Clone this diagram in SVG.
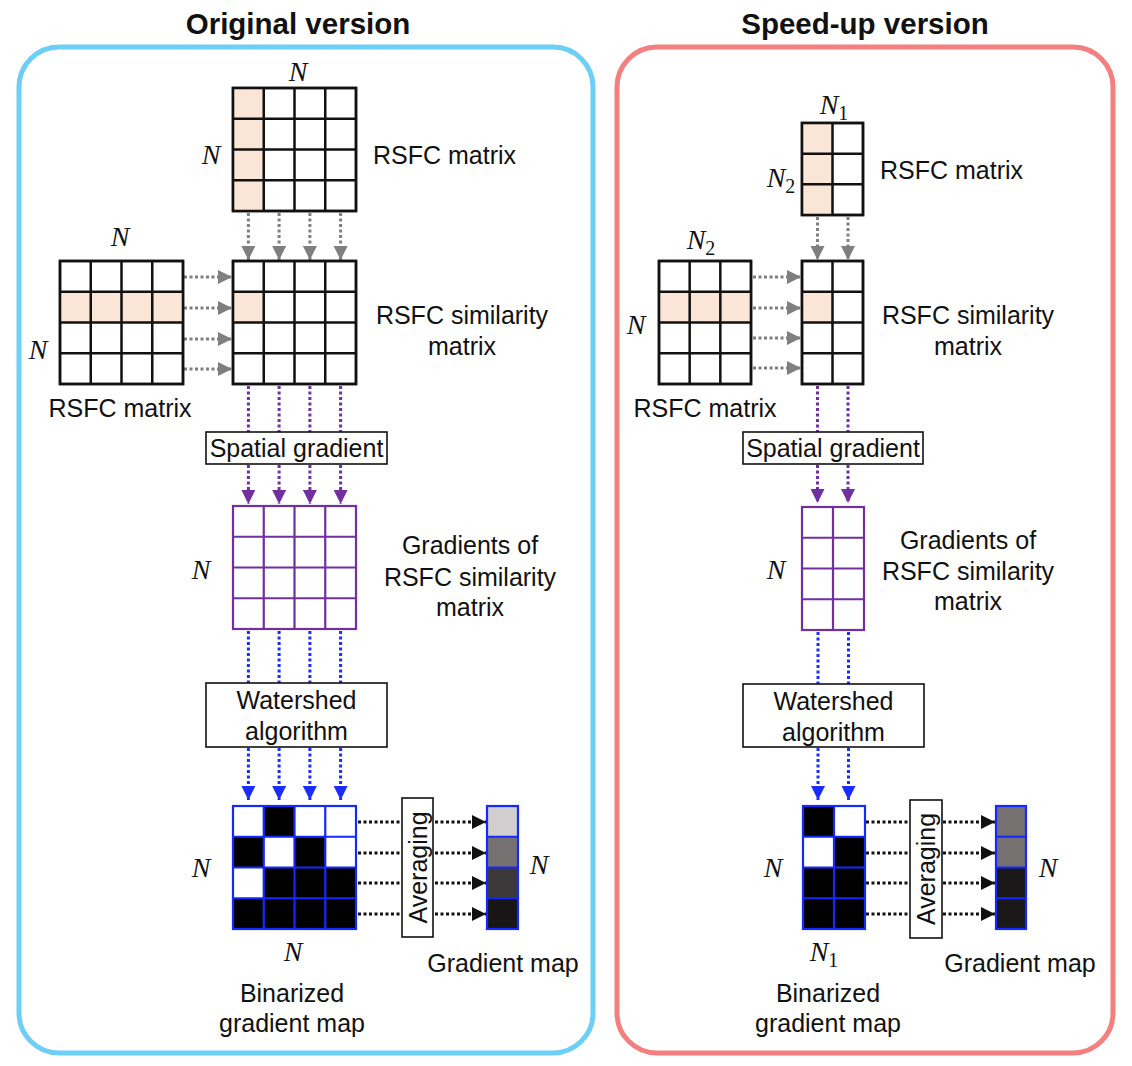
<svg xmlns="http://www.w3.org/2000/svg" width="1132" height="1066" viewBox="0 0 1132 1066">
<style>
.t{font-family:"Liberation Sans",Arial,sans-serif;font-size:25px;fill:#111}
.ttl{font-family:"Liberation Sans",Arial,sans-serif;font-size:29.5px;font-weight:bold;fill:#111}
.m{font-family:"Liberation Serif","DejaVu Serif",serif;font-style:italic;font-size:28px;fill:#111}
.sub{font-style:normal;font-size:20px}
.gk{fill:#fff;stroke:#111;stroke-width:2.5}
.gp{fill:#fff;stroke:#7030a0;stroke-width:2.2}
.gb{stroke:#1428ff;stroke-width:2.2}
.pk{fill:#fbe5d6}
.box{fill:#fff;stroke:#111;stroke-width:1.6}
.dg{stroke:#7f7f7f;stroke-width:3;stroke-dasharray:3 2.5;fill:none}
.dp{stroke:#7030a0;stroke-width:3;stroke-dasharray:3 2.5;fill:none}
.db{stroke:#1a2cff;stroke-width:3;stroke-dasharray:3 2.5;fill:none}
.dk{stroke:#111;stroke-width:3;stroke-dasharray:3 2.5;fill:none}
</style>
<defs>
<marker id="ag" markerUnits="userSpaceOnUse" markerWidth="14" markerHeight="14" refX="14" refY="7" orient="auto"><path d="M0,0 L14,7 L0,14 z" fill="#7f7f7f"/></marker>
<marker id="ap" markerUnits="userSpaceOnUse" markerWidth="14" markerHeight="14" refX="14" refY="7" orient="auto"><path d="M0,0 L14,7 L0,14 z" fill="#7030a0"/></marker>
<marker id="ab" markerUnits="userSpaceOnUse" markerWidth="14" markerHeight="14" refX="14" refY="7" orient="auto"><path d="M0,0 L14,7 L0,14 z" fill="#1a2cff"/></marker>
<marker id="ak" markerUnits="userSpaceOnUse" markerWidth="14" markerHeight="14" refX="14" refY="7" orient="auto"><path d="M0,0 L14,7 L0,14 z" fill="#111"/></marker>
</defs>
<rect width="1132" height="1066" fill="#fff"/>

<g id="panel-original">
<rect x="19" y="47" width="574" height="1006" rx="40" fill="none" stroke="#6dcff6" stroke-width="5"/>
<text class="ttl" x="298" y="34" text-anchor="middle">Original version</text>
</g>
<g id="panel-speedup">
<rect x="617" y="47" width="496" height="1006" rx="40" fill="none" stroke="#f47f7f" stroke-width="5"/>
<text class="ttl" x="865" y="34" text-anchor="middle">Speed-up version</text>
</g>

<g id="connectors">
<line class="dg" x1="248.4" y1="213" x2="248.4" y2="260" marker-end="url(#ag)"/>
<line class="dg" x1="279.1" y1="213" x2="279.1" y2="260" marker-end="url(#ag)"/>
<line class="dg" x1="309.9" y1="213" x2="309.9" y2="260" marker-end="url(#ag)"/>
<line class="dg" x1="340.6" y1="213" x2="340.6" y2="260" marker-end="url(#ag)"/>
<line class="dg" x1="184" y1="277" x2="232" y2="277" marker-end="url(#ag)"/>
<line class="dg" x1="184" y1="308" x2="232" y2="308" marker-end="url(#ag)"/>
<line class="dg" x1="184" y1="339" x2="232" y2="339" marker-end="url(#ag)"/>
<line class="dg" x1="184" y1="369" x2="232" y2="369" marker-end="url(#ag)"/>
<line class="dp" x1="248.4" y1="386" x2="248.4" y2="432"/>
<line class="dp" x1="279.1" y1="386" x2="279.1" y2="432"/>
<line class="dp" x1="309.9" y1="386" x2="309.9" y2="432"/>
<line class="dp" x1="340.6" y1="386" x2="340.6" y2="432"/>
<line class="dp" x1="248.4" y1="465" x2="248.4" y2="504" marker-end="url(#ap)"/>
<line class="dp" x1="279.1" y1="465" x2="279.1" y2="504" marker-end="url(#ap)"/>
<line class="dp" x1="309.9" y1="465" x2="309.9" y2="504" marker-end="url(#ap)"/>
<line class="dp" x1="340.6" y1="465" x2="340.6" y2="504" marker-end="url(#ap)"/>
<line class="db" x1="248.4" y1="631" x2="248.4" y2="683"/>
<line class="db" x1="279.1" y1="631" x2="279.1" y2="683"/>
<line class="db" x1="309.9" y1="631" x2="309.9" y2="683"/>
<line class="db" x1="340.6" y1="631" x2="340.6" y2="683"/>
<line class="db" x1="248.4" y1="748" x2="248.4" y2="800" marker-end="url(#ab)"/>
<line class="db" x1="279.1" y1="748" x2="279.1" y2="800" marker-end="url(#ab)"/>
<line class="db" x1="309.9" y1="748" x2="309.9" y2="800" marker-end="url(#ab)"/>
<line class="db" x1="340.6" y1="748" x2="340.6" y2="800" marker-end="url(#ab)"/>
<line class="dk" x1="358" y1="822" x2="486" y2="822" marker-end="url(#ak)"/>
<line class="dk" x1="358" y1="853" x2="486" y2="853" marker-end="url(#ak)"/>
<line class="dk" x1="358" y1="883" x2="486" y2="883" marker-end="url(#ak)"/>
<line class="dk" x1="358" y1="914" x2="486" y2="914" marker-end="url(#ak)"/>
<line class="dg" x1="817.5" y1="217" x2="817.5" y2="260" marker-end="url(#ag)"/>
<line class="dg" x1="848" y1="217" x2="848" y2="260" marker-end="url(#ag)"/>
<line class="dg" x1="753" y1="277" x2="801" y2="277" marker-end="url(#ag)"/>
<line class="dg" x1="753" y1="308" x2="801" y2="308" marker-end="url(#ag)"/>
<line class="dg" x1="753" y1="338" x2="801" y2="338" marker-end="url(#ag)"/>
<line class="dg" x1="753" y1="368" x2="801" y2="368" marker-end="url(#ag)"/>
<line class="dp" x1="817.5" y1="386" x2="817.5" y2="432"/>
<line class="dp" x1="848" y1="386" x2="848" y2="432"/>
<line class="dp" x1="817.5" y1="465" x2="817.5" y2="503" marker-end="url(#ap)"/>
<line class="dp" x1="848" y1="465" x2="848" y2="503" marker-end="url(#ap)"/>
<line class="db" x1="818" y1="632" x2="818" y2="684"/>
<line class="db" x1="848.5" y1="632" x2="848.5" y2="684"/>
<line class="db" x1="818" y1="748" x2="818" y2="800" marker-end="url(#ab)"/>
<line class="db" x1="848.5" y1="748" x2="848.5" y2="800" marker-end="url(#ab)"/>
<line class="dk" x1="866" y1="822" x2="995" y2="822" marker-end="url(#ak)"/>
<line class="dk" x1="866" y1="853" x2="995" y2="853" marker-end="url(#ak)"/>
<line class="dk" x1="866" y1="883" x2="995" y2="883" marker-end="url(#ak)"/>
<line class="dk" x1="866" y1="914" x2="995" y2="914" marker-end="url(#ak)"/>
</g>

<g id="o-rsfc-top">
<rect class="gk" x="233" y="88" width="123" height="123"/>
<rect class="pk" x="234.2" y="89.2" width="29.5" height="120.6"/>
<path d="M263.75,88V211M294.5,88V211M325.25,88V211M233,118.75H356M233,149.5H356M233,180.25H356" stroke="#111" stroke-width="2.5" fill="none"/>
<rect x="233" y="88" width="123" height="123" fill="none" stroke="#111" stroke-width="2.5"/>
<text class="m" x="298" y="81" text-anchor="middle">N</text>
<text class="m" x="211" y="164" text-anchor="middle">N</text>
<text class="t" x="373" y="164">RSFC matrix</text>
</g>
<g id="o-rsfc-left">
<rect class="gk" x="60" y="261" width="123" height="123"/>
<rect class="pk" x="61.2" y="291.75" width="120.6" height="30.75"/>
<path d="M90.75,261V384M121.5,261V384M152.25,261V384M60,291.75H183M60,322.5H183M60,353.25H183" stroke="#111" stroke-width="2.5" fill="none"/>
<rect x="60" y="261" width="123" height="123" fill="none" stroke="#111" stroke-width="2.5"/>
<text class="m" x="120" y="246" text-anchor="middle">N</text>
<text class="m" x="38" y="359" text-anchor="middle">N</text>
<text class="t" x="120" y="417" text-anchor="middle">RSFC matrix</text>
</g>
<g id="o-similarity">
<rect class="gk" x="233" y="261" width="123" height="123"/>
<rect class="pk" x="234.2" y="291.75" width="29.5" height="30.75"/>
<path d="M263.75,261V384M294.5,261V384M325.25,261V384M233,291.75H356M233,322.5H356M233,353.25H356" stroke="#111" stroke-width="2.5" fill="none"/>
<rect x="233" y="261" width="123" height="123" fill="none" stroke="#111" stroke-width="2.5"/>
<text class="t" x="462" y="324" text-anchor="middle">RSFC similarity</text>
<text class="t" x="462" y="355" text-anchor="middle">matrix</text>
</g>
<g id="o-spatial">
<rect class="box" x="206" y="432" width="181" height="32"/>
<text class="t" x="296.5" y="457" text-anchor="middle">Spatial gradient</text>
</g>
<g id="o-gradients">
<rect class="gp" x="233" y="506" width="123" height="123"/>
<path d="M263.75,506V629M294.5,506V629M325.25,506V629M233,536.75H356M233,567.5H356M233,598.25H356" stroke="#7030a0" stroke-width="2.2" fill="none"/>
<text class="m" x="201" y="579" text-anchor="middle">N</text>
<text class="t" x="470" y="554" text-anchor="middle">Gradients of</text>
<text class="t" x="470" y="586" text-anchor="middle">RSFC similarity</text>
<text class="t" x="470" y="616" text-anchor="middle">matrix</text>
</g>
<g id="o-watershed">
<rect class="box" x="206" y="683" width="181" height="64"/>
<text class="t" x="296.5" y="709" text-anchor="middle">Watershed</text>
<text class="t" x="296.5" y="740" text-anchor="middle">algorithm</text>
</g>
<g id="o-binarized">
<rect x="233" y="806" width="123" height="123" fill="#fff"/>
<rect x="263.75" y="806" width="30.75" height="30.75" fill="#000"/>
<rect x="233" y="836.75" width="30.75" height="30.75" fill="#000"/>
<rect x="294.5" y="836.75" width="30.75" height="30.75" fill="#000"/>
<rect x="263.75" y="867.5" width="92.25" height="30.75" fill="#000"/>
<rect x="233" y="898.25" width="123" height="30.75" fill="#000"/>
<path d="M263.75,806V929M294.5,806V929M325.25,806V929M233,836.75H356M233,867.5H356M233,898.25H356" class="gb" fill="none"/>
<rect x="233" y="806" width="123" height="123" fill="none" class="gb"/>
<text class="m" x="201" y="877" text-anchor="middle">N</text>
<text class="m" x="293" y="961" text-anchor="middle">N</text>
<text class="t" x="292" y="1002" text-anchor="middle">Binarized</text>
<text class="t" x="292" y="1032" text-anchor="middle">gradient map</text>
</g>
<g id="o-averaging">
<rect class="box" x="402" y="798" width="31" height="139"/>
<text class="t" transform="translate(426.5,867.5) rotate(-90)" text-anchor="middle">Averaging</text>
</g>
<g id="o-gradient-map">
<rect x="487" y="806" width="31" height="30.75" fill="#d0cece"/>
<rect x="487" y="836.75" width="31" height="30.75" fill="#767171"/>
<rect x="487" y="867.5" width="31" height="30.75" fill="#3b3838"/>
<rect x="487" y="898.25" width="31" height="30.75" fill="#171515"/>
<path d="M487,836.75H518M487,867.5H518M487,898.25H518" class="gb" fill="none"/>
<rect x="487" y="806" width="31" height="123" fill="none" class="gb"/>
<text class="m" x="539" y="874" text-anchor="middle">N</text>
<text class="t" x="503" y="972" text-anchor="middle">Gradient map</text>
</g>

<g id="s-rsfc-top">
<rect class="gk" x="802" y="123" width="61" height="92"/>
<rect class="pk" x="803.2" y="124.2" width="29.3" height="89.6"/>
<path d="M832.5,123V215M802,153.67H863M802,184.33H863" stroke="#111" stroke-width="2.5" fill="none"/>
<rect x="802" y="123" width="61" height="92" fill="none" stroke="#111" stroke-width="2.5"/>
<text class="m" x="834" y="114" text-anchor="middle">N<tspan class="sub" dy="6">1</tspan></text>
<text class="m" x="781" y="187" text-anchor="middle">N<tspan class="sub" dy="6">2</tspan></text>
<text class="t" x="880" y="179">RSFC matrix</text>
</g>
<g id="s-rsfc-left">
<rect class="gk" x="659" y="261" width="92" height="123"/>
<rect class="pk" x="660.2" y="291.75" width="89.6" height="30.75"/>
<path d="M689.67,261V384M720.33,261V384M659,291.75H751M659,322.5H751M659,353.25H751" stroke="#111" stroke-width="2.5" fill="none"/>
<rect x="659" y="261" width="92" height="123" fill="none" stroke="#111" stroke-width="2.5"/>
<text class="m" x="701" y="249" text-anchor="middle">N<tspan class="sub" dy="6">2</tspan></text>
<text class="m" x="636" y="334" text-anchor="middle">N</text>
<text class="t" x="705" y="417" text-anchor="middle">RSFC matrix</text>
</g>
<g id="s-similarity">
<rect class="gk" x="802" y="261" width="61" height="123"/>
<rect class="pk" x="803.2" y="291.75" width="29.3" height="30.75"/>
<path d="M832.5,261V384M802,291.75H863M802,322.5H863M802,353.25H863" stroke="#111" stroke-width="2.5" fill="none"/>
<rect x="802" y="261" width="61" height="123" fill="none" stroke="#111" stroke-width="2.5"/>
<text class="t" x="968" y="324" text-anchor="middle">RSFC similarity</text>
<text class="t" x="968" y="355" text-anchor="middle">matrix</text>
</g>
<g id="s-spatial">
<rect class="box" x="743" y="432" width="180" height="32"/>
<text class="t" x="833" y="457" text-anchor="middle">Spatial gradient</text>
</g>
<g id="s-gradients">
<rect class="gp" x="802" y="507" width="62" height="123"/>
<path d="M833,507V630M802,537.75H864M802,568.5H864M802,599.25H864" stroke="#7030a0" stroke-width="2.2" fill="none"/>
<text class="m" x="776" y="579" text-anchor="middle">N</text>
<text class="t" x="968" y="549" text-anchor="middle">Gradients of</text>
<text class="t" x="968" y="580" text-anchor="middle">RSFC similarity</text>
<text class="t" x="968" y="610" text-anchor="middle">matrix</text>
</g>
<g id="s-watershed">
<rect class="box" x="743" y="684" width="181" height="63"/>
<text class="t" x="833.5" y="710" text-anchor="middle">Watershed</text>
<text class="t" x="833.5" y="741" text-anchor="middle">algorithm</text>
</g>
<g id="s-binarized">
<rect x="803" y="806" width="62" height="123" fill="#000"/>
<rect x="834" y="806" width="31" height="30.75" fill="#fff"/>
<rect x="803" y="836.75" width="31" height="30.75" fill="#fff"/>
<path d="M834,806V929M803,836.75H865M803,867.5H865M803,898.25H865" class="gb" fill="none"/>
<rect x="803" y="806" width="62" height="123" fill="none" class="gb"/>
<text class="m" x="773" y="877" text-anchor="middle">N</text>
<text class="m" x="824" y="961" text-anchor="middle">N<tspan class="sub" dy="6">1</tspan></text>
<text class="t" x="828" y="1002" text-anchor="middle">Binarized</text>
<text class="t" x="828" y="1032" text-anchor="middle">gradient map</text>
</g>
<g id="s-averaging">
<rect class="box" x="910" y="800" width="32" height="138"/>
<text class="t" transform="translate(935,869) rotate(-90)" text-anchor="middle">Averaging</text>
</g>
<g id="s-gradient-map">
<rect x="996" y="806" width="30" height="61.5" fill="#767171"/>
<rect x="996" y="867.5" width="30" height="61.5" fill="#1a1818"/>
<path d="M996,836.75H1026M996,867.5H1026M996,898.25H1026" class="gb" fill="none"/>
<rect x="996" y="806" width="30" height="123" fill="none" class="gb"/>
<text class="m" x="1048" y="877" text-anchor="middle">N</text>
<text class="t" x="1020" y="972" text-anchor="middle">Gradient map</text>
</g>
</svg>
